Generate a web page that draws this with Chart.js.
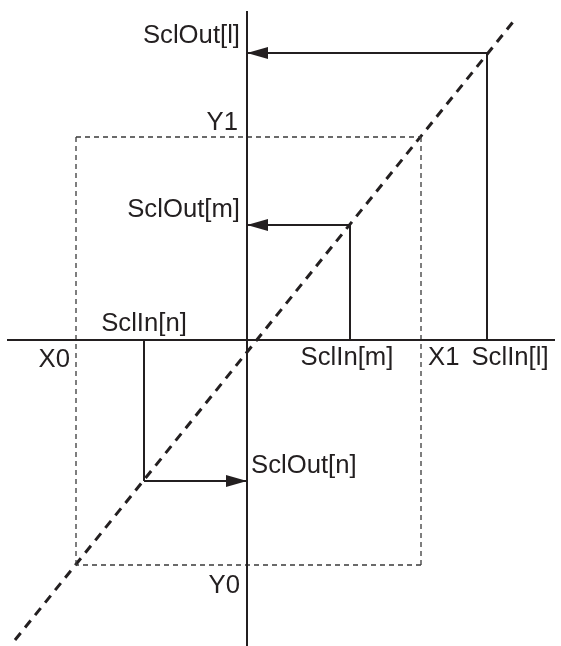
<!DOCTYPE html>
<html>
<head>
<meta charset="utf-8">
<script src="https://cdn.jsdelivr.net/npm/chart.js@4"></script>
<style>
  html, body { margin: 0; padding: 0; background: #fff; }
  canvas { display: block; }
</style>
</head>
<body>
<canvas id="sclChart" width="561" height="646"></canvas>
<script>
// values (diagram units, origin at the axes crossing)
const axisXRange = [-240, 308];
const axisYRange = [-306, 329];
const rectX = [-171, 174];      // X0, X1
const rectY = [-225, 203];      // Y0, Y1
const diagX = [-232, 266];
const diagY = [-300, 318];
const sclIn = [240, 103, -103];      // l, m, n
const sclOut = [287, 115, -141];
const inLabels = ['SclIn[l]', 'SclIn[m]', 'SclIn[n]'];
const outLabels = ['SclOut[l]', 'SclOut[m]', 'SclOut[n]'];
const boundLabels = ['X0', 'X1', 'Y0', 'Y1'];

const INK = '#231f20';
const rectStyle = { borderWidth: 1.3, borderDash: [5, 4], borderColor: '#3a3a3a' };

function seg(x0, y0, x1, y1, extra) {
    return Object.assign({
        data: [{ x: x0, y: y0 }, { x: x1, y: y1 }],
        showLine: true,
        pointRadius: 0,
        borderColor: INK,
        borderWidth: 2,
        fill: false
    }, extra || {});
}

const datasets = [
    // axes
    seg(axisXRange[0], 0, axisXRange[1], 0),
    seg(0, axisYRange[0], 0, axisYRange[1]),
    // dashed bounds rectangle
    seg(rectX[0], rectY[0], rectX[0], rectY[1], rectStyle),
    seg(rectX[0], rectY[1], rectX[1], rectY[1], rectStyle),
    seg(rectX[1], rectY[1], rectX[1], rectY[0], rectStyle),
    seg(rectX[1], rectY[0], rectX[0], rectY[0], rectStyle),
    // dashed transfer line
    seg(diagX[0], diagY[0], diagX[1], diagY[1], { borderWidth: 3, borderDash: [9, 7] })
];

// input verticals and output arrows
sclIn.forEach((v, i) => {
    datasets.push(seg(v, 0, v, sclOut[i]));
    datasets.push(seg(v, sclOut[i], 0, sclOut[i]));
});

const arrowPlugin = {
    id: 'arrows',
    afterDatasetsDraw(chart) {
        const { ctx, scales: { x, y } } = chart;
        ctx.save();
        ctx.fillStyle = INK;
        sclIn.forEach((v, i) => {
            const tipX = x.getPixelForValue(0);
            const tipY = y.getPixelForValue(sclOut[i]);
            const dir = v > 0 ? 1 : -1;   // arrow points toward the axis
            ctx.beginPath();
            ctx.moveTo(tipX, tipY);
            ctx.lineTo(tipX + dir * 21, tipY - 6);
            ctx.lineTo(tipX + dir * 21, tipY + 6);
            ctx.closePath();
            ctx.fill();
        });
        ctx.restore();
    }
};

const labelPlugin = {
    id: 'labels',
    afterDraw(chart) {
        const { ctx, scales: { x, y } } = chart;
        const px = v => x.getPixelForValue(v);
        const py = v => y.getPixelForValue(v);
        const items = [
            { t: outLabels[0], x: px(0) - 7, y: py(sclOut[0]) - 10, a: 'right' },
            { t: outLabels[1], x: px(0) - 7, y: py(sclOut[1]) - 8, a: 'right' },
            { t: outLabels[2], x: px(0) + 4, y: py(sclOut[2]) - 8, a: 'left' },
            { t: inLabels[0], x: px(sclIn[0]) + 23, y: py(0) + 25, a: 'center' },
            { t: inLabels[1], x: px(sclIn[1]) - 3, y: py(0) + 25, a: 'center' },
            { t: inLabels[2], x: px(sclIn[2]), y: py(0) - 9, a: 'center' },
            { t: boundLabels[0], x: px(rectX[0]) - 6, y: py(0) + 27, a: 'right' },
            { t: boundLabels[1], x: px(rectX[1]) + 7, y: py(0) + 25, a: 'left' },
            { t: boundLabels[2], x: px(0) - 7, y: py(rectY[0]) + 28, a: 'right' },
            { t: boundLabels[3], x: px(0) - 9, y: py(rectY[1]) - 7, a: 'right' }
        ];
        ctx.save();
        ctx.fillStyle = INK;
        ctx.font = "25.7px 'Liberation Sans', Arial, sans-serif";
        ctx.textBaseline = 'alphabetic';
        items.forEach(it => {
            ctx.textAlign = it.a;
            ctx.fillText(it.t, it.x, it.y);
        });
        ctx.restore();
    }
};

new Chart(document.getElementById('sclChart').getContext('2d'), {
    type: 'scatter',
    data: { datasets },
    options: {
        responsive: false,
        animation: false,
        devicePixelRatio: 1,
        layout: { padding: 0 },
        plugins: { legend: { display: false }, tooltip: { enabled: false } },
        scales: {
            x: { type: 'linear', min: -247, max: 314, display: false },
            y: { type: 'linear', min: -306, max: 340, display: false }
        }
    },
    plugins: [arrowPlugin, labelPlugin]
});
</script>
</body>
</html>
